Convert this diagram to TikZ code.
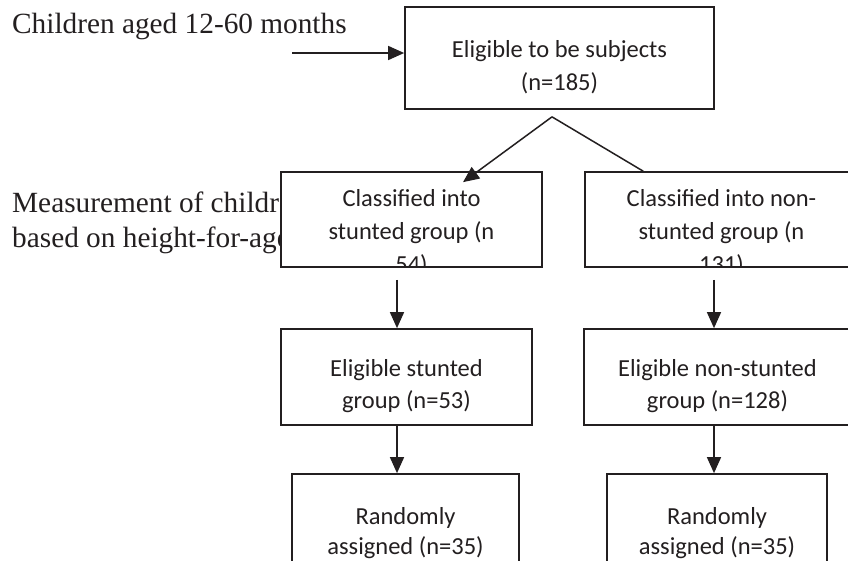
\documentclass[tikz,border=0pt]{standalone}
\usepackage{fontspec}
\setmainfont{Liberation Serif}
\newfontfamily\boxfont{Carlito}
\usetikzlibrary{arrows.meta}
\definecolor{ink}{HTML}{231F20}
\begin{document}
\begin{tikzpicture}[x=1pt,y=-1pt,
  flowbox/.style={draw=ink, line width=1.7pt, fill=white, rectangle, inner sep=0pt},
  btext/.style n args={3}{path picture={\node[anchor=north, inner sep=0pt, align=center, text=ink, font=\boxfont\fontsize{24.5pt}{#2}\selectfont] at (path picture bounding box.north) {\rule{0pt}{#1}#3};}},
  arr/.style={draw=ink, line width=1.5pt, -{Triangle[length=16pt,width=14pt]}},
  plainline/.style={draw=ink, line width=1.5pt},
  serif/.style={font=\fontsize{29.3pt}{35pt}\selectfont, text=ink, inner sep=0pt, anchor=base west}
]
\path[fill=white, use as bounding box] (0,0) rectangle (848,560);

% side texts
\node[serif] (t1) at (12,33) {Children aged 12-60 months};
\node[serif] (m1) at (12,212) {Measurement of children};
\node[serif] (m2) at (12,247) {based on height-for-age};

% boxes
\node[flowbox, minimum width=309pt, minimum height=102pt,
  btext={33pt}{33pt}{Eligible to be subjects\\(n=185)}] (top) at (559.5,58) {};
\node[flowbox, minimum width=261pt, minimum height=95pt,
  btext={33.5pt}{33pt}{Classified into\\stunted group (n\\54)}] (classL) at (411.5,219.5) {};
\node[flowbox, minimum width=273pt, minimum height=95pt,
  btext={33.5pt}{33pt}{Classified into non-\\stunted group (n\\131)}] (classR) at (721.5,219.5) {};
\node[flowbox, minimum width=251pt, minimum height=96pt,
  btext={34pt}{32pt}{Eligible stunted\\group (n=53)}] (eligL) at (406.5,377) {};
\node[flowbox, minimum width=267pt, minimum height=96pt,
  btext={34pt}{32pt}{Eligible non-stunted\\group (n=128)}] (eligR) at (717.5,377) {};
\node[flowbox, minimum width=227pt, minimum height=96pt,
  btext={37pt}{29.5pt}{Randomly\\assigned (n=35)}] (randL) at (405.5,522) {};
\node[flowbox, minimum width=220pt, minimum height=96pt,
  btext={37pt}{29.5pt}{Randomly\\assigned (n=35)}] (randR) at (717,522) {};

% connectors
\coordinate (cstart) at (292,53);
\draw[arr] (cstart) -- (cstart -| top.west);

\coordinate (apex) at ([xshift=-7.5pt,yshift=-7pt]top.south);
\coordinate (ltip) at ([xshift=51.5pt,yshift=-11pt]classL.north);
\coordinate (rend) at ([xshift=59pt]classR.north west);
\draw[arr] (apex) -- (ltip);
\draw[plainline] (apex) -- (rend);

\coordinate (s1) at ([xshift=-14.5pt,yshift=-12pt]classL.south);
\coordinate (s2) at ([xshift=-7.5pt,yshift=-12pt]classR.south);
\coordinate (s3) at ([xshift=-9.5pt]eligL.south);
\coordinate (s4) at ([xshift=-3.5pt]eligR.south);
\draw[arr] (s1) -- (s1 |- eligL.north);
\draw[arr] (s2) -- (s2 |- eligR.north);
\draw[arr] (s3) -- (s3 |- randL.north);
\draw[arr] (s4) -- (s4 |- randR.north);
\end{tikzpicture}
\end{document}
